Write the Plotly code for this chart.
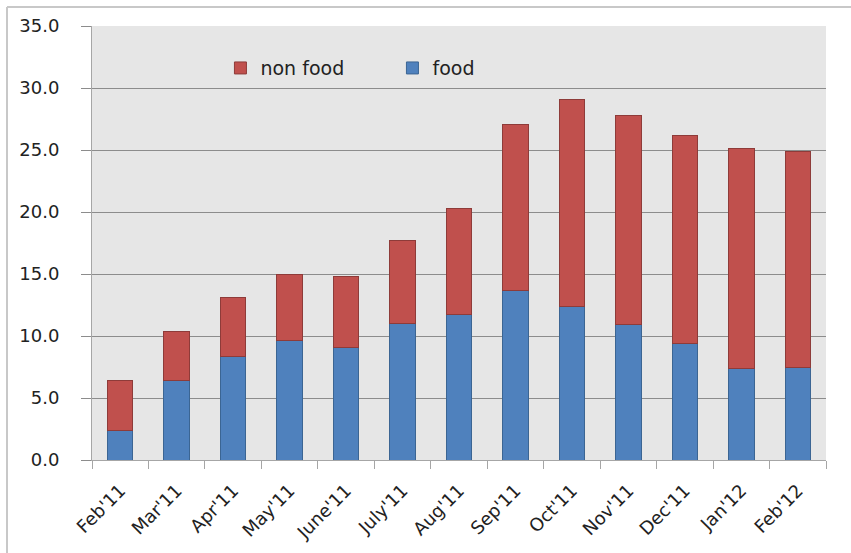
import plotly.graph_objects as go

months = ["Feb'11", "Mar'11", "Apr'11", "May'11", "June'11", "July'11", "Aug'11",
          "Sep'11", "Oct'11", "Nov'11", "Dec'11", "Jan'12", "Feb'12"]
food = [2.4, 6.45, 8.35, 9.6, 9.1, 11.0, 11.7, 13.65, 12.4, 10.9, 9.4, 7.4, 7.5]
total = [6.45, 10.4, 13.1, 15.0, 14.8, 17.7, 20.3, 27.05, 29.1, 27.75, 26.2, 25.1, 24.9]
non_food = [round(t - f, 2) for t, f in zip(total, food)]
y_ticks = [0, 5, 10, 15, 20, 25, 30, 35]
y_tick_text = ["0.0", "5.0", "10.0", "15.0", "20.0", "25.0", "30.0", "35.0"]

FONT = "DejaVu Sans"

fig = go.Figure()
fig.add_trace(go.Bar(
    x=months, y=food, name="food",
    marker=dict(color="#4F81BD", line=dict(color="#3B6593", width=1)),
))
fig.add_trace(go.Bar(
    x=months, y=non_food, name="non food",
    marker=dict(color="#C0504D", line=dict(color="#8E3B39", width=1)),
))

fig.update_layout(
    barmode="stack",
    bargap=0.55,
    width=851, height=553,
    margin=dict(l=92, r=25, t=26, b=93),
    paper_bgcolor="white",
    plot_bgcolor="#E6E6E6",
    font=dict(family=FONT, color="#222222"),
    showlegend=True,
    legend=dict(
        orientation="h", traceorder="reversed",
        x=0.175, xanchor="left", y=0.903, yanchor="middle",
        bgcolor="rgba(0,0,0,0)",
        font=dict(family=FONT, size=19, color="#222222"),
        entrywidth=127, entrywidthmode="pixels",
    ),
    xaxis=dict(
        type="category",
        tickangle=-45,
        tickfont=dict(family=FONT, size=18, color="#222222"),
        showline=True, linecolor="#A6A6A6", linewidth=1,
        ticks="outside", ticklen=8, tickcolor="#A6A6A6",
        tickson="boundaries",
        ticklabelstandoff=12,
        showgrid=False,
        mirror=False,
        automargin=False,
    ),
    yaxis=dict(
        range=[0, 35],
        tickvals=y_ticks, ticktext=y_tick_text,
        tickfont=dict(family=FONT, size=18, color="#222222"),
        showline=True, linecolor="#A6A6A6", linewidth=1,
        ticks="outside", ticklen=10, tickcolor="#8C8C8C",
        ticklabelstandoff=18,
        showgrid=True, gridcolor="#8C8C8C", gridwidth=1,
        zeroline=False,
        automargin=False,
    ),
    shapes=[
        dict(type="line", xref="paper", yref="paper",
             x0=-85/734, x1=1.1, y0=(460-7)/434, y1=(460-7)/434,
             line=dict(color="#C8C8C8", width=2)),
        dict(type="line", xref="paper", yref="paper",
             x0=-85/734, x1=-85/734, y0=(460-7)/434, y1=-0.3,
             line=dict(color="#C8C8C8", width=2)),
    ],
)

fig.write_html("out.html")
